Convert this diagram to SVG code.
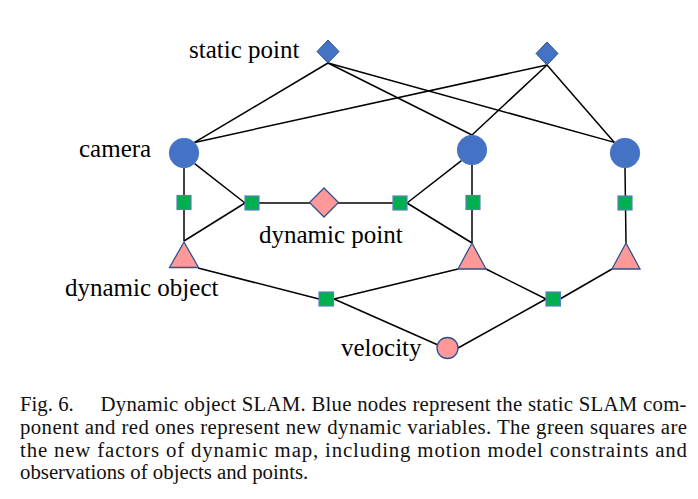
<svg xmlns="http://www.w3.org/2000/svg" width="698" height="499" viewBox="0 0 698 499">
  <style>
    .edge { stroke: #000; stroke-width: 1.5; fill: none; }
    .cam { fill: #4472C4; stroke: #4a78c8; stroke-width: 1; }
    .spt { fill: #4472C4; stroke: #2F528F; stroke-width: 1; }
    .fac { fill: #00B050; stroke: #5a7fc0; stroke-width: 1.2; }
    .dyn { fill: #FF9999; stroke: #2F528F; stroke-width: 1.3; }
    .lbl { font-family: "Liberation Serif", "Times New Roman", serif; font-size: 25px; fill: #000; }
    .cap { font-family: "Liberation Serif", "Times New Roman", serif; font-size: 20.8px; fill: #111; }
  </style>
  <rect width="698" height="499" fill="#fff"/>

  <g id="connectors">
    <!-- static points to cameras -->
    <line class="edge" x1="328" y1="63" x2="194.6" y2="142.4"/>
    <line class="edge" x1="328" y1="63" x2="472" y2="135"/>
    <line class="edge" x1="328" y1="63" x2="614.4" y2="142.4"/>
    <line class="edge" x1="547" y1="65" x2="194.6" y2="142.4"/>
    <line class="edge" x1="547" y1="65" x2="472" y2="135"/>
    <line class="edge" x1="547" y1="65" x2="614.4" y2="142.4"/>
    <!-- camera 1 column -->
    <line class="edge" x1="184" y1="168" x2="184" y2="241"/>
    <line class="edge" x1="194.6" y1="163.6" x2="245" y2="203"/>
    <line class="edge" x1="184" y1="241" x2="245" y2="203"/>
    <!-- dynamic point row -->
    <line class="edge" x1="259" y1="203" x2="393" y2="203"/>
    <line class="edge" x1="407" y1="203" x2="461.4" y2="160.6"/>
    <line class="edge" x1="407" y1="203" x2="472" y2="243"/>
    <!-- camera 2 column -->
    <line class="edge" x1="472" y1="165" x2="472" y2="243"/>
    <!-- camera 3 column -->
    <line class="edge" x1="625" y1="168" x2="626" y2="243"/>
    <!-- motion model factors -->
    <line class="edge" x1="198" y1="268" x2="319" y2="299"/>
    <line class="edge" x1="334" y1="299" x2="458" y2="269"/>
    <line class="edge" x1="334" y1="299" x2="438" y2="345"/>
    <line class="edge" x1="486" y1="269" x2="546" y2="299"/>
    <line class="edge" x1="560" y1="299" x2="612" y2="269"/>
    <line class="edge" x1="546" y1="299" x2="458" y2="348"/>
  </g>

  <!-- static points -->
  <g id="static-point-1"><polygon class="spt" points="328,40 339,51.5 328,63 317,51.5"/></g>
  <g id="static-point-2"><polygon class="spt" points="547,42 558,53.5 547,65 536,53.5"/></g>

  <!-- cameras -->
  <g id="camera-1"><circle class="cam" cx="184" cy="153" r="14.7"/></g>
  <g id="camera-2"><circle class="cam" cx="472" cy="150" r="14.7"/></g>
  <g id="camera-3"><circle class="cam" cx="625" cy="153" r="14.7"/></g>

  <!-- observation factors -->
  <g id="factor-cam1-obj1"><rect class="fac" x="177" y="195.5" width="14" height="14"/></g>
  <g id="factor-cam1-pt"><rect class="fac" x="245" y="196" width="14" height="14"/></g>
  <g id="factor-cam2-pt"><rect class="fac" x="393" y="196" width="14" height="14"/></g>
  <g id="factor-cam2-obj2"><rect class="fac" x="466" y="195.5" width="14" height="14"/></g>
  <g id="factor-cam3-obj3"><rect class="fac" x="618" y="196" width="14" height="14"/></g>

  <!-- dynamic point -->
  <g id="dynamic-point"><polygon class="dyn" points="324,188 338.5,202.5 324,217 309.5,202.5"/></g>

  <!-- dynamic objects -->
  <g id="dynamic-object-1"><polygon class="dyn" points="184,242 198.5,267.5 169.5,267.5"/></g>
  <g id="dynamic-object-2"><polygon class="dyn" points="472,243 486,269 458,269"/></g>
  <g id="dynamic-object-3"><polygon class="dyn" points="626,243 640,269 612,269"/></g>

  <!-- motion model factors -->
  <g id="factor-motion-1"><rect class="fac" x="319" y="292" width="14.5" height="14"/></g>
  <g id="factor-motion-2"><rect class="fac" x="546" y="292" width="14.5" height="14"/></g>

  <!-- velocity -->
  <g id="velocity"><circle class="dyn" cx="447.5" cy="348" r="10.5"/></g>

  <!-- labels -->
  <g id="labels">
    <text class="lbl" x="189" y="58">static point</text>
    <text class="lbl" x="79" y="157">camera</text>
    <text class="lbl" x="259" y="243">dynamic point</text>
    <text class="lbl" x="65" y="296">dynamic object</text>
    <text class="lbl" x="341" y="356">velocity</text>
  </g>

  <!-- caption -->
  <g id="caption">
    <text class="cap" x="20" y="411">Fig. 6.</text>
    <text class="cap" x="100.5" y="411" textLength="586" lengthAdjust="spacing">Dynamic object SLAM. Blue nodes represent the static SLAM com-</text>
    <text class="cap" x="20" y="434" textLength="667" lengthAdjust="spacing">ponent and red ones represent new dynamic variables. The green squares are</text>
    <text class="cap" x="20" y="456.5" textLength="667" lengthAdjust="spacing">the new factors of dynamic map, including motion model constraints and</text>
    <text class="cap" x="20" y="479">observations of objects and points.</text>
  </g>
</svg>
